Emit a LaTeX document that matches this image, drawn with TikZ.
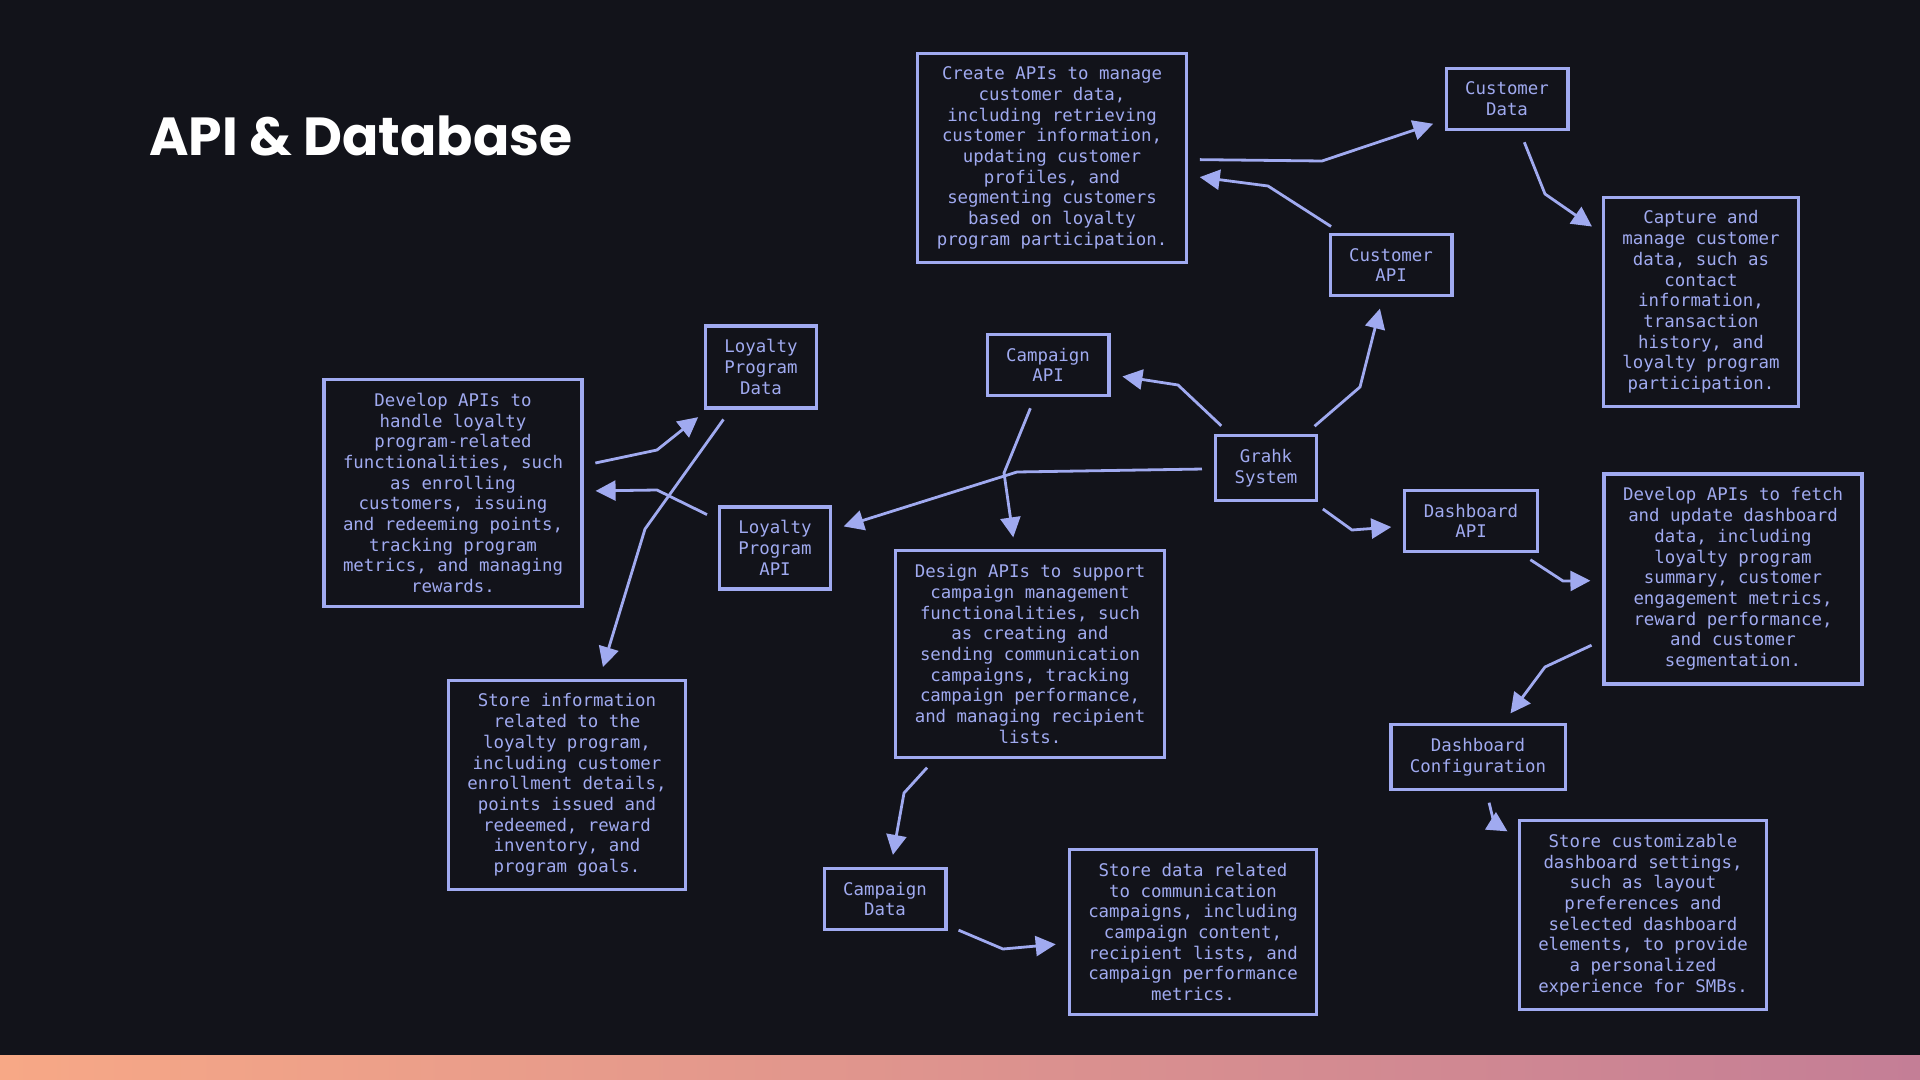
\documentclass[tikz,border=0pt]{standalone}
\usepackage{fontspec}
\usepackage{tikz}
\usetikzlibrary{arrows.meta}
\setmonofont{DejaVu Sans Mono}
\newfontfamily\titlefont{Poppins}
\definecolor{bgdark}{RGB}{18,19,26}
\definecolor{lavender}{RGB}{160,170,240}
\definecolor{barleft}{RGB}{247,168,134}
\definecolor{barright}{RGB}{196,126,150}

\begin{document}
\begin{tikzpicture}[
        x=0.5pt, y=-0.5pt,
        font=\ttfamily\fontsize{8.7}{10.35}\selectfont,
        >={Triangle[length=10pt,width=10pt]},
        box/.style={draw=lavender, line width=1.6pt, fill=bgdark, text=lavender, align=center, inner xsep=9.5pt, inner ysep=6.8pt},
        link/.style={->, draw=lavender, line width=1.4pt, shorten <=6pt, shorten >=6pt},
        heading/.style={anchor=base west, text=white, font=\titlefont\bfseries\fontsize{26.8}{32}\selectfont}
      ]
      \fill[bgdark] (0,0) rectangle (1920,1080);
      \shade[left color=barleft, right color=barright] (0,1055) rectangle (1920,1080);
      \useasboundingbox (0,0) rectangle (1920,1080);

      \node[heading] (title) at (142,156) {API \& Database};

      \node[box] (create) at (1052,158) {Create APIs to manage\\customer data,\\including retrieving\\customer information,\\updating customer\\profiles, and\\segmenting customers\\based on loyalty\\program participation.};
      \node[box] (custdata) at (1507,99) {Customer\\Data};
      \node[box] (custapi) at (1391,265) {Customer\\API};
      \node[box] (capture) at (1701,302) {Capture and\\manage customer\\data, such as\\contact\\information,\\transaction\\history, and\\loyalty program\\participation.};
      \node[box] (lpdata) at (761,367) {Loyalty\\Program\\Data};
      \node[box] (campapi) at (1048,365) {Campaign\\API};
      \node[box] (grahk) at (1266,468) {Grahk\\System};
      \node[box] (devloyal) at (453,493) {Develop APIs to\\handle loyalty\\program-related\\functionalities, such\\as enrolling\\customers, issuing\\and redeeming points,\\tracking program\\metrics, and managing\\rewards.};
      \node[box] (lpapi) at (775,548) {Loyalty\\Program\\API};
      \node[box] (dashapi) at (1471,521) {Dashboard\\API};
      \node[box] (fetch) at (1733,579) {Develop APIs to fetch\\and update dashboard\\data, including\\loyalty program\\summary, customer\\engagement metrics,\\reward performance,\\and customer\\segmentation.};
      \node[box] (design) at (1030,654) {Design APIs to support\\campaign management\\functionalities, such\\as creating and\\sending communication\\campaigns, tracking\\campaign performance,\\and managing recipient\\lists.};
      \node[box] (storeinfo) at (567,785) {Store information\\related to the\\loyalty program,\\including customer\\enrollment details,\\points issued and\\redeemed, reward\\inventory, and\\program goals.};
      \node[box] (dashcfg) at (1478,757) {Dashboard\\Configuration};
      \node[box] (campdata) at (885,899) {Campaign\\Data};
      \node[box] (storedata) at (1193,932) {Store data related\\to communication\\campaigns, including\\campaign content,\\recipient lists, and\\campaign performance\\metrics.};
      \node[box] (storecustom) at (1643,915) {Store customizable\\dashboard settings,\\such as layout\\preferences and\\selected dashboard\\elements, to provide\\a personalized\\experience for SMBs.};

      \coordinate (b1) at (1322,161);
      \coordinate (b2) at (1268,186);
      \coordinate (b3) at (1545,194);
      \coordinate (b4) at (1360,387);
      \coordinate (b5) at (1178,385);
      \coordinate (b6) at (1017,472);
      \coordinate (b7) at (1004,473);
      \coordinate (b8) at (657,450);
      \coordinate (b9) at (657,490);
      \coordinate (b10) at (645,529);
      \coordinate (b11) at (1352,530);
      \coordinate (b12) at (1563,581);
      \coordinate (b13) at (1545,667);
      \coordinate (b14) at (1494,823);
      \coordinate (b15) at (904,793);
      \coordinate (b16) at (1003,949);

      \draw[link] (create) -- (b1) -- (custdata);
      \draw[link] (custapi) -- (b2) -- (create);
      \draw[link] (custdata) -- (b3) -- (capture);
      \draw[link] (grahk) -- (b4) -- (custapi);
      \draw[link] (grahk) -- (b5) -- (campapi);
      \draw[link] (grahk) -- (b6) -- (lpapi);
      \draw[link] (campapi) -- (b7) -- (design);
      \draw[link] (devloyal) -- (b8) -- (lpdata);
      \draw[link] (lpapi) -- (b9) -- (devloyal);
      \draw[link] (lpdata) -- (b10) -- (storeinfo);
      \draw[link] (grahk) -- (b11) -- (dashapi);
      \draw[link] (dashapi) -- (b12) -- (fetch);
      \draw[link] (fetch) -- (b13) -- (dashcfg);
      \draw[link] (dashcfg) -- (b14) -- (storecustom);
      \draw[link] (design) -- (b15) -- (campdata);
      \draw[link] (campdata) -- (b16) -- (storedata);
    \end{tikzpicture}
\end{document}
